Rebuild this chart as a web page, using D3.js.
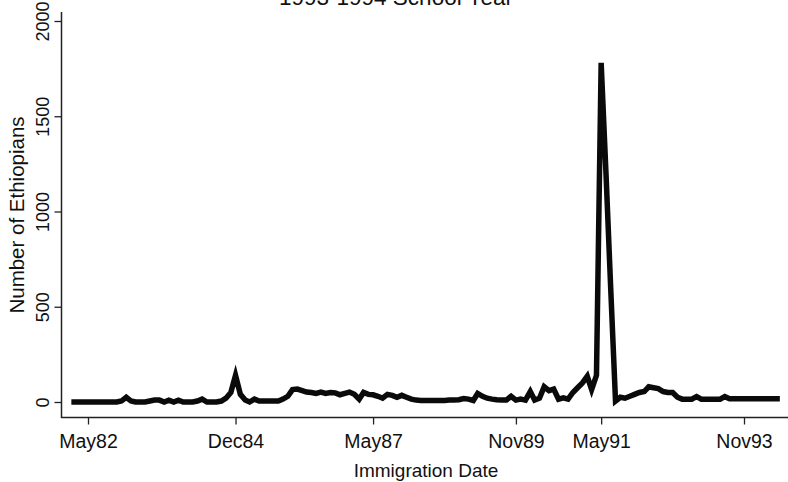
<!DOCTYPE html>
<html>
<head>
<meta charset="utf-8">
<script src="https://cdn.jsdelivr.net/npm/d3@7"></script>
<style>
  body { margin: 0; background: #fff; }
  text { font-family: "Liberation Sans", Arial, sans-serif; fill: #111; }
</style>
</head>
<body>
<div id="chart"></div>
<script>
// monthly arrivals, Feb 1982 .. Jun 1994
const startYear = 1982, startMonth = 1;
const counts = [
  0, 0, 0, 0, 0, 0, 0, 0, 0, 0,          // Feb82 - Nov82
  5, 25, 5, 0, 0, 0, 5, 10, 10, 0,       // Dec82 - Sep83
  10, 0, 10, 0, 0, 0, 5, 15, 0, 0,       // Oct83 - Jul84
  0, 5, 20, 50, 140, 40, 10, 0, 15, 5,   // Aug84 - May85
  5, 5, 5, 5, 15, 30, 65, 68, 60, 52,    // Jun85 - Mar86
  50, 45, 52, 45, 50, 48, 38, 45, 52, 40,// Apr86 - Jan87
  15, 50, 40, 38, 30, 20, 40, 35, 25, 35,// Feb87 - Nov87
  25, 15, 10, 8, 8, 8, 8, 8, 8, 10,      // Dec87 - Sep88
  10, 12, 18, 15, 8, 45, 30, 20, 15, 12, // Oct88 - Jul89
  10, 10, 30, 10, 15, 10, 55, 10, 20, 80,// Aug89 - May90
  60, 68, 15, 22, 15, 50, 75, 100, 135, 65, // Jun90 - Mar91
  140, 1780, 1200, 600, 5, 25, 20, 30, 40, 50, // Apr91 - Jan92
  55, 80, 75, 70, 55, 50, 50, 25, 15, 15,// Feb92 - Nov92
  15, 28, 15, 15, 15, 15, 15, 28, 17, 17,// Dec92 - Sep93
  17, 17, 17, 17, 17, 17, 17, 17, 17     // Oct93 - Jun94
];
const tickDates = ["May82", "Dec84", "May87", "Nov89", "May91", "Nov93"];
const yTicks = [0, 500, 1000, 1500, 2000];

const W = 788, H = 482;
const parse = d3.timeParse("%b%y");
const fmt = d3.timeFormat("%b%y");

const data = counts.map((v, i) => ({ date: new Date(startYear, startMonth + i, 1), value: v }));

const svg = d3.select("#chart").append("svg")
  .attr("width", W)
  .attr("height", H);

const x = d3.scaleTime()
  .domain([parse("May82"), parse("Nov93")])
  .range([88, 744]);

const y = d3.scaleLinear()
  .domain([0, 2000])
  .range([402, 21]);

// axis lines
svg.append("line")
  .attr("x1", 61.5).attr("x2", 61.5)
  .attr("y1", 12).attr("y2", 418)
  .attr("stroke", "#222").attr("stroke-width", 1.5);
svg.append("line")
  .attr("x1", 61).attr("x2", 788)
  .attr("y1", 417.5).attr("y2", 417.5)
  .attr("stroke", "#222").attr("stroke-width", 1.5);

// y axis
const yAxis = svg.append("g")
  .attr("transform", "translate(61.5,0)")
  .call(d3.axisLeft(y).tickValues(yTicks).tickFormat(d3.format("d")).tickSize(7).tickSizeOuter(0));
yAxis.select(".domain").remove();
yAxis.selectAll("line").attr("stroke", "#222").attr("stroke-width", 1.3);
yAxis.selectAll("text")
  .attr("transform", "rotate(-90)")
  .attr("x", 0)
  .attr("y", -13)
  .attr("dy", 0)
  .attr("text-anchor", "middle")
  .style("font-size", "18px")
  .style("font-family", "Liberation Sans, Arial, sans-serif")
  .attr("fill", "#111");

// x axis
const xAxis = svg.append("g")
  .attr("transform", "translate(0,417.5)")
  .call(d3.axisBottom(x).tickValues(tickDates.map(parse)).tickFormat(fmt).tickSize(7).tickSizeOuter(0));
xAxis.select(".domain").remove();
xAxis.selectAll("line").attr("stroke", "#222").attr("stroke-width", 1.3);
xAxis.selectAll("text")
  .attr("y", 30)
  .attr("dy", 0)
  .style("font-size", "19.5px")
  .style("font-family", "Liberation Sans, Arial, sans-serif")
  .attr("fill", "#111");

// series
const line = d3.line()
  .x(d => x(d.date))
  .y(d => y(d.value));

svg.append("path")
  .datum(data)
  .attr("d", line)
  .attr("fill", "none")
  .attr("stroke", "#0a0a0a")
  .attr("stroke-width", 5.5)
  .attr("stroke-linejoin", "miter")
  .attr("stroke-linecap", "square");

// labels
svg.append("text")
  .attr("transform", "translate(24,215) rotate(-90)")
  .attr("text-anchor", "middle")
  .style("font-size", "20.5px")
  .text("Number of Ethiopians");

svg.append("text")
  .attr("x", 426)
  .attr("y", 477)
  .attr("text-anchor", "middle")
  .style("font-size", "19px")
  .text("Immigration Date");

svg.append("text")
  .attr("x", 396)
  .attr("y", 5)
  .attr("text-anchor", "middle")
  .style("font-size", "22.5px")
  .text("1993-1994 School Year");
</script>
</body>
</html>
